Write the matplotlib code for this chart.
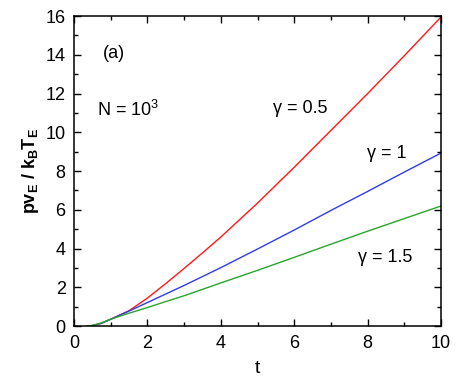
import numpy as np
import matplotlib
matplotlib.use('Agg')
import matplotlib.pyplot as plt
from matplotlib.ticker import MultipleLocator

plt.rcParams.update({
    'font.family': 'sans-serif',
    'font.sans-serif': ['Liberation Sans', 'DejaVu Sans'],
    'mathtext.fontset': 'custom',
    'mathtext.rm': 'Liberation Sans',
    'mathtext.it': 'Liberation Sans',
    'mathtext.bf': 'Liberation Sans:bold',
})

# ---- data ----
t_vals = [0.35, 0.5, 0.75, 1.0, 1.5, 2.0, 2.5, 3.0, 3.5, 4.0, 5.0, 6.0, 7.0, 8.0, 9.0, 10.0]
y_red = [0.0, 0.03, 0.15, 0.36, 0.8, 1.45, 2.2, 2.98, 3.78, 4.6, 6.35, 8.2, 10.1, 12.0, 13.95, 15.95]
y_blue = [0.0, 0.03, 0.15, 0.36, 0.78, 1.22, 1.66, 2.1, 2.56, 3.02, 3.98, 4.96, 5.97, 6.95, 7.95, 8.93]
y_green = [0.0, 0.04, 0.17, 0.36, 0.67, 0.96, 1.27, 1.57, 1.9, 2.23, 2.88, 3.55, 4.23, 4.9, 5.55, 6.2]

C_RED = '#ff1a1a'
C_BLUE = '#2f3cf5'
C_GREEN = '#2aa52a'

fig = plt.figure(figsize=(4.57, 3.86), dpi=100)
ax = fig.add_axes([0.162, 0.155, 0.803, 0.8035])

ax.plot(t_vals, y_red, color=C_RED, lw=1.0)
ax.plot(t_vals, y_blue, color=C_BLUE, lw=1.0)
ax.plot(t_vals, y_green, color=C_GREEN, lw=1.0)

ax.set_xlim(0, 10)
ax.set_ylim(0, 16)
ax.xaxis.set_major_locator(MultipleLocator(2))
ax.xaxis.set_minor_locator(MultipleLocator(1))
ax.yaxis.set_major_locator(MultipleLocator(2))
ax.yaxis.set_minor_locator(MultipleLocator(1))
ax.tick_params(which='both', direction='in', top=True, right=True, width=1.0)
ax.tick_params(which='major', length=5, labelsize=13, pad=6)
ax.tick_params(which='minor', length=3)
for sp in ax.spines.values():
    sp.set_linewidth(1.1)

ax.set_xlabel('t', fontsize=14, labelpad=6)
ax.set_ylabel(r'$\mathbf{pv_E\ /\ k_B T_E}$', fontsize=13, labelpad=3)

ax.text(0.79, 14.07, '(a)', fontsize=13, va='center', ha='left')
ax.text(0.63, 11.13, r'N = 10$^3$', fontsize=13, va='center', ha='left')
ax.text(5.42, 11.24, 'γ = 0.5', fontsize=13, va='center', ha='left')
ax.text(7.98, 8.92, 'γ = 1', fontsize=13, va='center', ha='left')
ax.text(7.74, 3.56, 'γ = 1.5', fontsize=13, va='center', ha='left')

fig.savefig('out.png', dpi=100, facecolor='white')
